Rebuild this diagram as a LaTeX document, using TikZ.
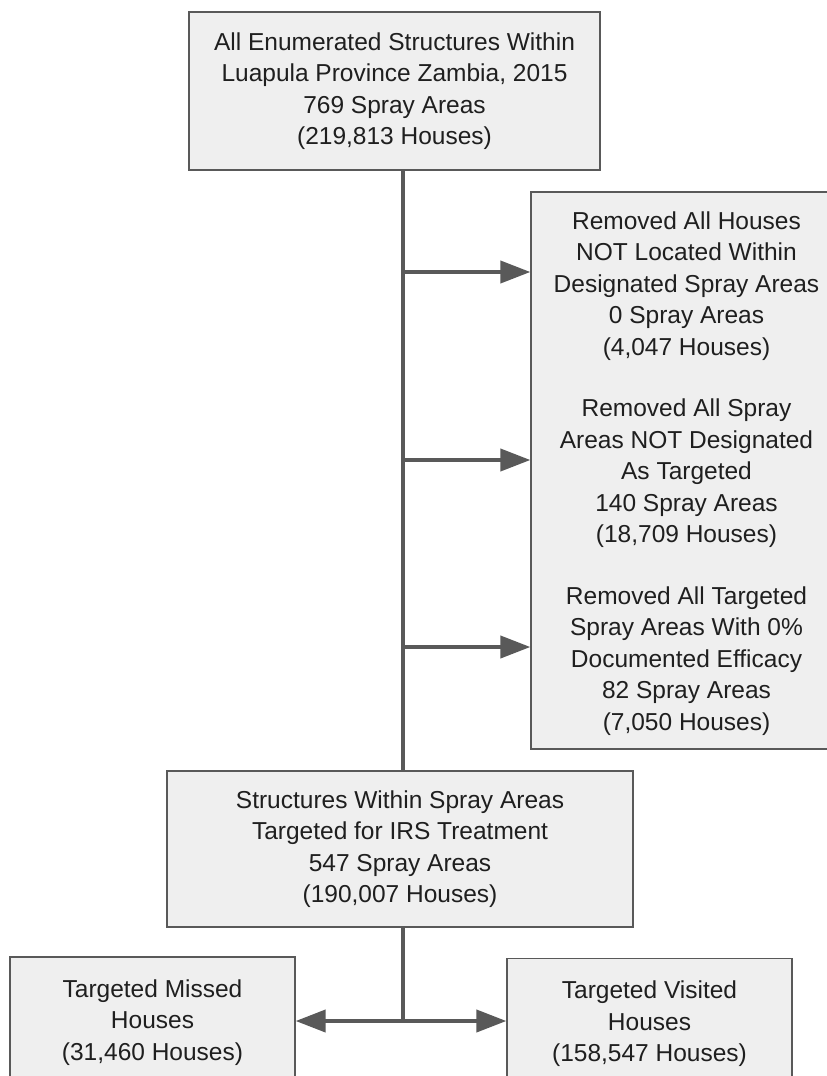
\documentclass[tikz,border=0pt]{standalone}
\usepackage{fontspec}
\setmainfont{Liberation Sans}
\usetikzlibrary{arrows.meta}
\definecolor{boxfill}{HTML}{EFEFEF}
\definecolor{linec}{HTML}{595959}
\definecolor{textc}{HTML}{1F1F1F}
\tikzset{
  box/.style={draw=linec, fill=boxfill, line width=1.3pt, inner sep=0pt, align=center,
    font=\fontsize{24.5}{31.5}\selectfont, text=textc},
  txt/.style={inner sep=0pt, align=center, font=\fontsize{24.5}{31.5}\selectfont, text=textc},
  conn/.style={draw=linec, line width=4pt},
  arr/.style={conn, -{Triangle[length=30pt,width=22pt]}}
}
\begin{document}
\begin{tikzpicture}[x=1pt,y=-1pt]
\useasboundingbox (0,0) rectangle (827,1076);
\clip (0,0) rectangle (827,1076);
\fill[white] (0,0) rectangle (827,1076);
% boxes
\node[box, minimum width=411pt, minimum height=158pt] (top) at (394.5,91)
  {All Enumerated Structures Within\\Luapula Province Zambia, 2015\\769 Spray Areas\\(219,813 Houses)};
\node[box, minimum width=314pt, minimum height=557pt] (removed) at (688,470.5) {};
\node[txt] (r1) at (686.5,286) {Removed All Houses\\NOT Located Within\\Designated Spray Areas\\0 Spray Areas\\(4,047 Houses)};
\node[txt] (r2) at (686.5,473.5) {Removed All Spray\\Areas NOT Designated\\As Targeted\\140 Spray Areas\\(18,709 Houses)};
\node[txt] (r3) at (686.5,661) {Removed All Targeted\\Spray Areas With 0\%\\Documented Efficacy\\82 Spray Areas\\(7,050 Houses)};
\node[box, minimum width=466pt, minimum height=156pt] (mid) at (400,849)
  {Structures Within Spray Areas\\Targeted for IRS Treatment\\547 Spray Areas\\(190,007 Houses)};
\node[box, minimum width=285pt, minimum height=131pt] (missed) at (152.5,1022.5)
  {Targeted Missed\\Houses\\(31,460 Houses)};
\node[box, minimum width=285pt, minimum height=131pt] (visited) at (649.5,1024)
  {Targeted Visited\\Houses\\(158,547 Houses)};
% connectors
\coordinate (t0) at (403,170);
\coordinate (m0) at (403,771);
\coordinate (m1) at (403,927);
\coordinate (a1) at (403,272);
\coordinate (a2) at (403,460);
\coordinate (a3) at (403,647);
\coordinate (j) at (403,1021);
\draw[conn] (t0) -- (m0);
\draw[arr] (a1) -- (a1 -| removed.west);
\draw[arr] (a2) -- (a2 -| removed.west);
\draw[arr] (a3) -- (a3 -| removed.west);
\draw[conn] (m1) -- (j);
\draw[arr] (j) -- (j -| missed.east);
\draw[arr] (j) -- (j -| visited.west);
\end{tikzpicture}
\end{document}
